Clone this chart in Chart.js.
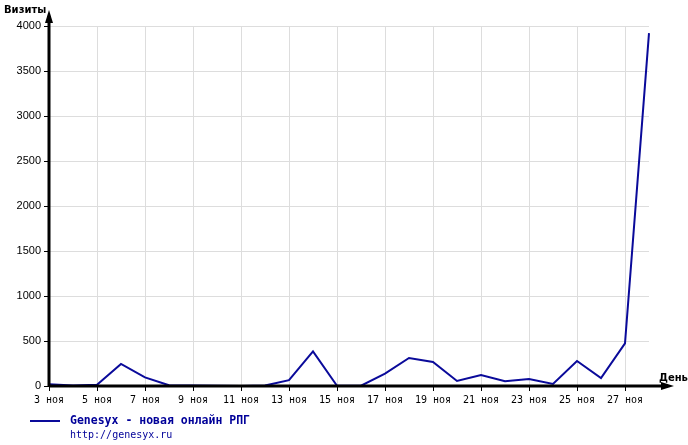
<!DOCTYPE html>
<html>
<head>
<meta charset="utf-8">
<script src="https://cdn.jsdelivr.net/npm/chart.js@4/dist/chart.umd.min.js"></script>
<style>
  html, body { margin: 0; padding: 0; background: #fff; }
  #wrap { width: 688px; height: 445px; }
</style>
</head>
<body>
<div id="wrap"><canvas id="visits"></canvas></div>
<script>
// Дни ноября и число визитов
const days = [3, 4, 5, 6, 7, 8, 9, 10, 11, 12, 13, 14, 15, 16, 17, 18, 19, 20, 21, 22, 23, 24, 25, 26, 27, 28];
const visits = [20, 5, 15, 245, 95, 8, 5, 2, 0, 5, 65, 385, 3, 3, 137, 311, 267, 56, 122, 52, 78, 22, 278, 89, 474, 3920];
const monthLabel = 'ноя';
const seriesName = 'Genesyx - новая онлайн РПГ';
const seriesUrl = 'http://genesyx.ru';
const yTitle = 'Визиты';
const xTitle = 'День';
const yMax = 4000;
const yStep = 500;

const lineColor = '#0a0a9a';
const labels = days.map(d => d + ' ' + monthLabel);

// Стрелки осей, подписи осей и легенда
const extras = {
  id: 'extras',
  afterDraw(chart) {
    const ctx = chart.ctx;
    const a = chart.chartArea;
    ctx.save();
    ctx.fillStyle = '#000';
    ctx.strokeStyle = '#000';
    ctx.lineWidth = 3;
    // ось Y вверх
    ctx.beginPath();
    ctx.moveTo(a.left, a.bottom);
    ctx.lineTo(a.left, 16);
    ctx.stroke();
    ctx.beginPath();
    ctx.moveTo(a.left, 10);
    ctx.lineTo(a.left - 4, 23);
    ctx.lineTo(a.left + 4, 23);
    ctx.closePath();
    ctx.fill();
    // ось X вправо
    ctx.beginPath();
    ctx.moveTo(a.left, a.bottom);
    ctx.lineTo(668, a.bottom);
    ctx.stroke();
    ctx.beginPath();
    ctx.moveTo(674, a.bottom);
    ctx.lineTo(661, a.bottom - 4);
    ctx.lineTo(661, a.bottom + 4);
    ctx.closePath();
    ctx.fill();

    ctx.font = 'bold 10px "DejaVu Sans"';
    ctx.textBaseline = 'middle';
    ctx.textAlign = 'left';
    ctx.fillText(yTitle, 4, 10);
    ctx.fillText(xTitle, 659, 378);

    // легенда
    ctx.strokeStyle = lineColor;
    ctx.lineWidth = 2;
    ctx.beginPath();
    ctx.moveTo(30, 421);
    ctx.lineTo(60, 421);
    ctx.stroke();
    ctx.fillStyle = '#000099';
    ctx.font = 'bold 11.5px "DejaVu Sans Mono"';
    ctx.fillText(seriesName, 70, 421);
    ctx.font = '10px "DejaVu Sans Mono"';
    ctx.fillText(seriesUrl, 70, 435);
    ctx.restore();
  }
};

new Chart(document.getElementById('visits'), {
  type: 'line',
  data: {
    labels: labels,
    datasets: [{
      label: seriesName,
      data: visits,
      borderColor: lineColor,
      borderWidth: 2,
      pointRadius: 0,
      tension: 0,
      fill: false
    }]
  },
  options: {
    responsive: true,
    maintainAspectRatio: false,
    animation: false,
    layout: { padding: { left: 0, top: 26, right: 39, bottom: 0 } },
    plugins: { legend: { display: false }, tooltip: { enabled: false } },
    scales: {
      x: {
        type: 'category',
        offset: false,
        afterFit(scale) { scale.height = 59; },
        grid: {
          color: c => (c.index % 2 === 0 && c.index > 0) ? '#dddddd' : 'rgba(0,0,0,0)',
          tickColor: c => (c.index % 2 === 0) ? '#000' : 'rgba(0,0,0,0)',
          tickLength: 5,
          lineWidth: 1
        },
        border: { display: false },
        ticks: {
          autoSkip: false,
          maxRotation: 0,
          padding: 3,
          color: '#000',
          font: { family: 'DejaVu Sans Mono', size: 10 },
          callback: function (v, i) { return i % 2 === 0 ? labels[i] : ''; }
        }
      },
      y: {
        min: 0,
        max: yMax,
        afterFit(scale) { scale.width = 49; },
        grid: {
          color: c => c.index === 0 ? 'rgba(0,0,0,0)' : '#dddddd',
          tickColor: '#000',
          tickLength: 5,
          lineWidth: 1
        },
        border: { display: false },
        ticks: {
          stepSize: yStep,
          padding: 3,
          color: '#000',
          font: { family: 'Liberation Sans', size: 11 },
          callback: v => String(v)
        }
      }
    }
  },
  plugins: [extras]
});
</script>
</body>
</html>
